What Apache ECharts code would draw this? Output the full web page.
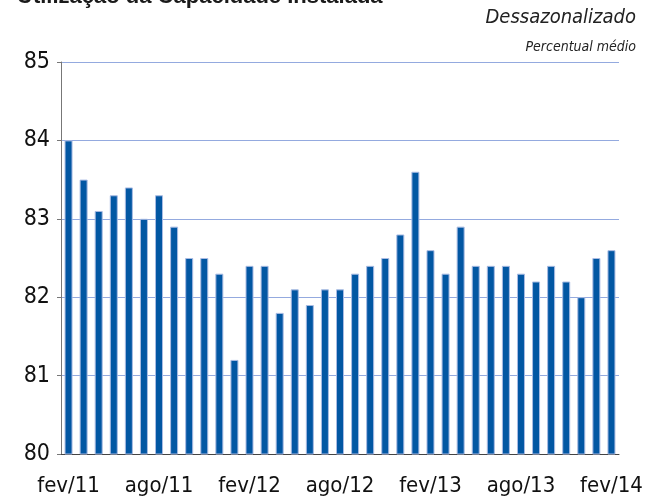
<!DOCTYPE html>
<html>
<head>
<meta charset="utf-8">
<script src="https://cdn.jsdelivr.net/npm/echarts@6/dist/echarts.min.js"></script>
<style>
  html, body { margin: 0; padding: 0; background: #fff; }
  #chart { width: 651px; height: 497px; }
</style>
</head>
<body>
<div id="chart"></div>
<script>
  // meses fev/11 .. fev/14
  const months = ['fev/11', 'mar/11', 'abr/11', 'mai/11', 'jun/11', 'jul/11', 'ago/11', 'set/11', 'out/11', 'nov/11', 'dez/11', 'jan/12',
    'fev/12', 'mar/12', 'abr/12', 'mai/12', 'jun/12', 'jul/12', 'ago/12', 'set/12', 'out/12', 'nov/12', 'dez/12', 'jan/13',
    'fev/13', 'mar/13', 'abr/13', 'mai/13', 'jun/13', 'jul/13', 'ago/13', 'set/13', 'out/13', 'nov/13', 'dez/13', 'jan/14',
    'fev/14']
  const nuci = [84.0, 83.5, 83.1, 83.3, 83.4, 83.0, 83.3, 82.9, 82.5, 82.5, 82.3, 81.2,
    82.4, 82.4, 81.8, 82.1, 81.9, 82.1, 82.1, 82.3, 82.4, 82.5, 82.8, 83.6,
    82.6, 82.3, 82.9, 82.4, 82.4, 82.4, 82.3, 82.2, 82.4, 82.2, 82.0, 82.5,
    82.6]
  const yTicks = [80, 81, 82, 83, 84, 85]

  const font = '"DejaVu Sans Condensed", "Liberation Sans", sans-serif'
  const chart = echarts.init(document.getElementById('chart'))

  chart.setOption({
    animation: false,
    backgroundColor: '#fff',
    graphic: [{
      type: 'text',
      left: 17,
      top: -14,
      style: {
        text: 'Utilização da Capacidade Instalada',
        font: 'bold 22px "Liberation Sans", sans-serif',
        fill: '#1a1a1a'
      }
    }, {
      type: 'text',
      right: 15,
      top: 8,
      style: {
        text: 'Dessazonalizado',
        font: 'italic 20px ' + font,
        fill: '#222'
      }
    }, {
      type: 'text',
      right: 15,
      top: 40,
      style: {
        text: 'Percentual médio',
        font: 'italic 14px ' + font,
        fill: '#222'
      }
    }],
    grid: {
      left: 61,
      right: 32,
      top: 62,
      bottom: 42
    },
    xAxis: {
      type: 'category',
      data: months,
      axisLine: { lineStyle: { color: '#444', width: 1 } },
      axisTick: { interval: 5, length: 6, lineStyle: { color: '#444' } },
      axisLabel: {
        interval: 5,
        margin: 21,
        color: '#111',
        fontSize: 22,
        fontFamily: font
      }
    },
    yAxis: {
      type: 'value',
      min: yTicks[0],
      max: yTicks[yTicks.length - 1],
      interval: 1,
      axisLine: { show: true, lineStyle: { color: '#777' } },
      axisTick: { show: true, length: 4, lineStyle: { color: '#777' } },
      axisLabel: {
        color: '#111',
        fontSize: 23,
        fontFamily: font,
        margin: 11
      },
      splitLine: { lineStyle: { color: '#94aadf', width: 1 } }
    },
    series: [{
      type: 'bar',
      data: nuci,
      barWidth: 8,
      itemStyle: {
        color: '#0257a3',
        borderColor: '#a9bbe3',
        borderWidth: 1
      }
    }]
  })
</script>
</body>
</html>
